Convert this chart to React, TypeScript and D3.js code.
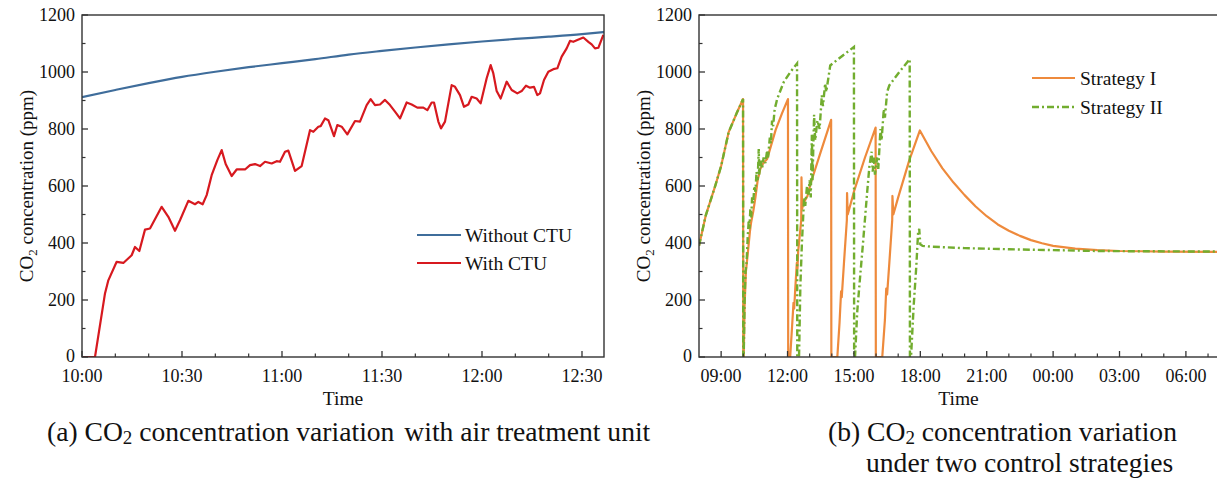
import React from "react";
import * as d3 from "d3";

// ---------- Chart (a) data ----------
const aTickLabels = ["10:00", "10:30", "11:00", "11:30", "12:00", "12:30"];
const aTickMinutes = [0, 30, 60, 90, 120, 150];
const yTicks = [0, 200, 400, 600, 800, 1000, 1200];

const blueMinutes = [0, 10, 20, 30, 40, 50, 60, 70, 80, 90, 100, 110, 120, 130, 140, 150, 157];
const blueValues = [912, 937, 961, 983, 1001, 1017, 1031, 1045, 1061, 1074, 1086, 1097, 1107, 1116, 1124, 1133, 1141];

const redMinutes = [0, 3.9, 6.9, 7.9, 10.4, 12.4, 14.9, 15.9, 17.2, 18.9, 20.4, 23.9, 25.9, 27.9, 29.4, 31.9, 33.9, 34.9, 36.2, 37.4, 38.9, 40.6, 41.9, 43.1, 44.9, 46.4, 48.9, 50.4, 51.9, 53.4, 54.9, 56.9, 58.4, 59.4, 60.9, 61.9, 63.9, 65.9, 68.4, 69.4, 70.9, 71.6, 72.9, 73.9, 75.6, 76.6, 77.9, 79.6, 81.9, 83.4, 85.4, 86.6, 87.9, 89.4, 90.9, 92.4, 93.9, 95.4, 97.4, 98.9, 100.6, 102.4, 103.6, 104.9, 105.6, 106.9, 107.7, 108.9, 110.9, 111.9, 113.4, 114.6, 115.9, 116.9, 118.4, 119.6, 121.4, 122.6, 123.4, 124.4, 125.6, 127.4, 128.9, 130.6, 131.9, 133.2, 134.4, 135.6, 136.6, 137.4, 138.6, 139.9, 141.4, 142.6, 143.9, 145.4, 146.4, 147.4, 148.6, 150.4, 151.9, 152.9, 153.9, 154.9, 156.4];
const redValues = [0, 0, 223, 269, 334, 330, 357, 386, 372, 447, 451, 527, 492, 443, 480, 548, 536, 544, 536, 568, 638, 691, 726, 677, 635, 658, 658, 673, 677, 670, 685, 679, 687, 685, 720, 724, 653, 670, 796, 790, 808, 810, 837, 831, 775, 814, 808, 781, 828, 826, 884, 905, 884, 886, 902, 884, 861, 837, 893, 886, 875, 875, 866, 893, 893, 826, 802, 826, 954, 948, 919, 878, 886, 913, 907, 890, 978, 1024, 995, 933, 907, 966, 937, 925, 933, 952, 945, 948, 919, 925, 972, 1001, 1010, 1013, 1054, 1083, 1109, 1106, 1112, 1121, 1106, 1097, 1083, 1085, 1130];

// ---------- Chart (b) data (hours since 08:00) ----------
const bTickLabels = ["09:00", "12:00", "15:00", "18:00", "21:00", "00:00", "03:00", "06:00"];
const bTickHours = [1, 4, 7, 10, 13, 16, 19, 22];

const s1Hours = [0, 0.3, 0.74, 1.0, 1.34, 1.7, 1.99, 2.0, 2.02, 2.06, 2.12, 2.2, 2.3, 2.35, 2.45, 2.55, 2.65, 2.77, 2.9, 3.08, 3.46, 3.75, 4.02, 4.03, 4.12, 4.2, 4.27, 4.3, 4.35, 4.42, 4.45, 4.48, 4.62, 4.63, 4.66, 4.72, 4.9, 5.04, 5.5, 5.97, 5.98, 6.25, 6.35, 6.42, 6.45, 6.55, 6.68, 6.69, 6.72, 7.0, 7.5, 7.98, 7.99, 8.28, 8.4, 8.46, 8.5, 8.6, 8.73, 8.74, 8.78, 9.0, 9.5, 9.98, 10.5, 11, 11.5, 12, 12.5, 13, 13.5, 14, 14.5, 15, 15.5, 16, 17, 18, 19, 20, 21, 23.5];
const s1Values = [390, 495, 602, 670, 789, 855, 905, 0, 0, 180, 300, 360, 440, 470, 510, 560, 620, 660, 680, 695, 796, 855, 905, 0, 0, 100, 190, 170, 240, 330, 310, 370, 480, 630, 520, 540, 565, 608, 720, 832, 0, 0, 120, 230, 210, 330, 480, 575, 500, 580, 700, 805, 0, 0, 130, 240, 220, 330, 480, 565, 500, 560, 690, 795, 722, 662, 612, 568, 528, 494, 465, 443, 425, 410, 399, 390, 380, 375, 372, 371, 370, 369];

const s2Hours = [0, 0.3, 0.74, 1.0, 1.34, 1.7, 1.99, 2.0, 2.02, 2.06, 2.1, 2.15, 2.2, 2.25, 2.28, 2.32, 2.36, 2.4, 2.45, 2.5, 2.55, 2.6, 2.65, 2.7, 2.72, 2.78, 2.85, 2.92, 3.0, 3.08, 3.12, 3.2, 3.25, 3.3, 3.35, 3.42, 3.5, 3.53, 3.83, 4.13, 4.43, 4.44, 4.52, 4.58, 4.65, 4.7, 4.75, 4.8, 4.88, 4.95, 5.0, 5.05, 5.1, 5.13, 5.2, 5.25, 5.35, 5.45, 5.55, 5.6, 5.7, 5.75, 5.93, 6.5, 7.0, 7.01, 7.05, 7.15, 7.3, 7.4, 7.5, 7.6, 7.7, 7.8, 7.85, 7.9, 7.95, 8.05, 8.1, 8.2, 8.25, 8.35, 8.4, 8.5, 8.6, 9.0, 9.52, 9.53, 9.58, 9.7, 9.82, 9.9, 9.95, 10.0, 10.1, 10.5, 12, 14, 16, 18, 20, 23.5];
const s2Values = [390, 495, 602, 670, 789, 855, 905, 0, 0, 200, 300, 330, 420, 480, 450, 520, 490, 560, 540, 600, 580, 650, 620, 730, 640, 690, 660, 700, 680, 725, 700, 770, 750, 830, 810, 870, 895, 905, 965, 1000, 1030, 0, 0, 250, 400, 480, 560, 530, 600, 570, 620, 560, 780, 620, 850, 760, 830, 800, 918, 880, 960, 930, 1023, 1058, 1088, 0, 0, 160, 300, 390, 485, 580, 670, 720, 650, 700, 640, 700, 660, 800, 760, 870, 840, 930, 953, 995, 1045, 0, 0, 180, 320, 438, 450, 395, 390, 387, 382, 378, 375, 372, 371, 370];

const FONT = "'Liberation Serif', 'Times New Roman', serif";
const AXIS = "#333";

type Pt = [number, number];
const zip = (a: number[], b: number[]): Pt[] => a.map((v, i) => [v, b[i]]);

function Frame({ x0, x1, y0, y1 }: { x0: number; x1: number; y0: number; y1: number }) {
  return <rect x={x0} y={y0} width={x1 - x0} height={y1 - y0} fill="none" stroke={AXIS} strokeWidth={1.4} />;
}

function YAxis({ y, x0, labelX }: { y: d3.ScaleLinear<number, number>; x0: number; labelX: number }) {
  const minor = d3.range(100, 1200, 200);
  return (
    <g>
      {yTicks.map((t) => (
        <g key={t}>
          <line x1={x0} x2={x0 + 6} y1={y(t)} y2={y(t)} stroke={AXIS} strokeWidth={1.3} />
          <text x={labelX} y={t === 0 ? y(t) - 1 : y(t)} dy="0.35em" textAnchor="end" fontSize={18} fontFamily={FONT} fill="#111">
            {t}
          </text>
        </g>
      ))}
      {minor.map((t) => (
        <line key={"m" + t} x1={x0} x2={x0 + 3.5} y1={y(t)} y2={y(t)} stroke={AXIS} strokeWidth={1.2} />
      ))}
    </g>
  );
}

function YTitle({ x, y }: { x: number; y: number }) {
  return (
    <text transform={`translate(${x},${y}) rotate(-90)`} textAnchor="middle" fontSize={19} fontFamily={FONT} fill="#111">
      CO<tspan fontSize={13} dy={4}>2</tspan>
      <tspan dy={-4}> concentration (ppm)</tspan>
    </text>
  );
}

export default function App() {
  // chart (a)
  const aX0 = 82, aX1 = 604, top = 15, bottom = 357;
  const xa = d3.scaleLinear().domain([0, 156.6]).range([aX0, aX1]);
  const ya = d3.scaleLinear().domain([0, 1200]).range([bottom, top]);
  const lineA = d3.line<Pt>().x((d) => xa(d[0])).y((d) => ya(d[1]));
  const lineBlue = d3.line<Pt>().x((d) => xa(d[0])).y((d) => ya(d[1])).curve(d3.curveMonotoneX);

  // chart (b)
  const bX0 = 699, bX1 = 1218;
  const xb = d3.scaleLinear().domain([0, 23.45]).range([bX0, bX1]);
  const yb = ya;
  const lineB = d3.line<Pt>().x((d) => xb(d[0])).y((d) => yb(d[1]));

  const aMinor = d3.range(10, 157, 10).filter((m) => m % 30 !== 0);
  const bMinor = d3.range(1, 24, 1).filter((h) => !bTickHours.includes(h));

  return (
    <svg width={1217} height={481} style={{ position: "absolute", left: 0, top: 0, background: "#fff" }}>
      <rect x={0} y={0} width={1217} height={481} fill="#fff" />
      <defs>
        <clipPath id="clipA">
          <rect x={aX0} y={top - 2} width={aX1 - aX0} height={bottom - top + 2} />
        </clipPath>
        <clipPath id="clipB">
          <rect x={bX0} y={top - 2} width={bX1 - bX0} height={bottom - top + 2} />
        </clipPath>
      </defs>
      {/* ---------- Chart (a) ---------- */}
      <g clipPath="url(#clipA)">
        <path d={lineBlue(zip(blueMinutes, blueValues)) || ""} fill="none" stroke="#3f6d9b" strokeWidth={2.2} />
        <path d={lineA(zip(redMinutes, redValues)) || ""} fill="none" stroke="#d7191f" strokeWidth={2.2} strokeLinejoin="round" />
      </g>
      <Frame x0={aX0} x1={aX1} y0={top} y1={bottom} />
      <YAxis y={ya} x0={aX0} labelX={75} />
      {aTickMinutes.map((m, i) => (
        <g key={m}>
          <line x1={xa(m)} x2={xa(m)} y1={bottom} y2={bottom - 6} stroke={AXIS} strokeWidth={1.3} />
          <text x={xa(m)} y={382} textAnchor="middle" fontSize={18} fontFamily={FONT} fill="#111">
            {aTickLabels[i]}
          </text>
        </g>
      ))}
      {aMinor.map((m) => (
        <line key={"am" + m} x1={xa(m)} x2={xa(m)} y1={bottom} y2={bottom - 3.5} stroke={AXIS} strokeWidth={1.2} />
      ))}
      <text x={(aX0 + aX1) / 2} y={405} textAnchor="middle" fontSize={19.5} fontFamily={FONT} fill="#111">Time</text>
      <YTitle x={33} y={186} />
      {/* legend a */}
      <line x1={417} x2={461} y1={235} y2={235} stroke="#3f6d9b" strokeWidth={2} />
      <text x={465} y={241.5} fontSize={19.5} fontFamily={FONT} fill="#111">Without CTU</text>
      <line x1={417} x2={461} y1={263} y2={263} stroke="#d7191f" strokeWidth={2} />
      <text x={465} y={269.5} fontSize={19.5} fontFamily={FONT} fill="#111">With CTU</text>

      {/* ---------- Chart (b) ---------- */}
      <g clipPath="url(#clipB)">
        <path d={lineB(zip(s1Hours, s1Values)) || ""} fill="none" stroke="#ee8a3c" strokeWidth={2.2} strokeLinejoin="round" />
        <path d={lineB(zip(s2Hours, s2Values)) || ""} fill="none" stroke="#72ad2f" strokeWidth={2.4} strokeDasharray="7,3,2,3" />
      </g>
      <Frame x0={bX0} x1={bX1} y0={top} y1={bottom} />
      <YAxis y={yb} x0={bX0} labelX={692} />
      {bTickHours.map((h, i) => (
        <g key={h}>
          <line x1={xb(h)} x2={xb(h)} y1={bottom} y2={bottom - 6} stroke={AXIS} strokeWidth={1.3} />
          <text x={xb(h)} y={382} textAnchor="middle" fontSize={18} fontFamily={FONT} fill="#111">
            {bTickLabels[i]}
          </text>
        </g>
      ))}
      {bMinor.map((h) => (
        <line key={"bm" + h} x1={xb(h)} x2={xb(h)} y1={bottom} y2={bottom - 3.5} stroke={AXIS} strokeWidth={1.2} />
      ))}
      <text x={(bX0 + bX1) / 2} y={405} textAnchor="middle" fontSize={19.5} fontFamily={FONT} fill="#111">Time</text>
      <YTitle x={650} y={186} />
      {/* legend b */}
      <line x1={1032} x2={1075} y1={78} y2={78} stroke="#ee8a3c" strokeWidth={2.2} />
      <text x={1080} y={84.5} fontSize={19.5} fontFamily={FONT} fill="#111">Strategy I</text>
      <line x1={1032} x2={1075} y1={107} y2={107} stroke="#72ad2f" strokeWidth={2.4} strokeDasharray="7,3,2,3" />
      <text x={1080} y={113.5} fontSize={19.5} fontFamily={FONT} fill="#111">Strategy II</text>

      {/* ---------- Captions ---------- */}
      <text x={47} y={441} fontSize={27.6} fontFamily={FONT} fill="#111">
        (a) CO<tspan fontSize={19} dy={3}>2</tspan>
        <tspan dy={-3}> concentration variation</tspan>
        <tspan dx={3}> with air treatment unit</tspan>
      </text>
      <text x={828} y={441} fontSize={27.6} fontFamily={FONT} fill="#111">
        (b) CO<tspan fontSize={19} dy={3}>2</tspan>
        <tspan dy={-3}> concentration variation</tspan>
      </text>
      <text x={866} y={472} fontSize={27.6} fontFamily={FONT} fill="#111">under two control strategies</text>
    </svg>
  );
}
